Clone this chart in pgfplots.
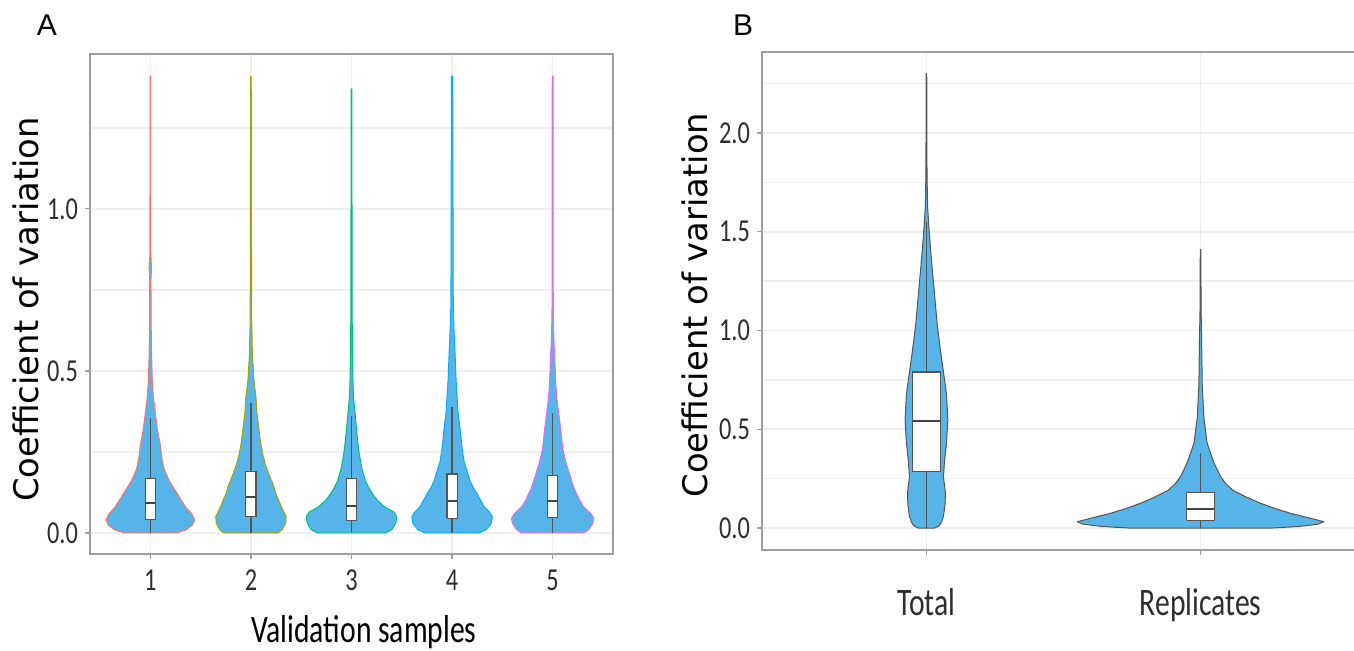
\documentclass[border=0pt]{standalone}
\usepackage{fontspec}
\setmainfont{Carlito}
\newfontfamily\cond[FakeStretch=0.76]{Carlito}
\newfontfamily\dv{DejaVu Sans}
\newfontfamily\lsans{Liberation Sans}
\usepackage{pgfplots}
\pgfplotsset{compat=1.18}
\usepackage{pgfplotstable}

\definecolor{vblue}{HTML}{56B4E9}
\definecolor{cA}{HTML}{F8766D}
\definecolor{cB}{HTML}{A3A500}
\definecolor{cC}{HTML}{00BF7D}
\definecolor{cD}{HTML}{00B0F6}
\definecolor{cE}{HTML}{E76BF3}
\definecolor{frame}{HTML}{9E9E9E}
\definecolor{gridc}{HTML}{EFEFEF}
\definecolor{boxc}{HTML}{555555}
\definecolor{tickc}{HTML}{2E2E2E}

% violin outlines: y = CV, d = signed half-width (right side up, left side down)
\pgfplotstableread{
y d
0 0.26
0.01 0.36
0.025 0.42
0.04 0.44
0.06 0.41
0.08 0.35
0.10 0.31
0.12 0.27
0.14 0.23
0.16 0.19
0.18 0.16
0.20 0.135
0.23 0.115
0.27 0.10
0.32 0.07
0.37 0.05
0.42 0.03
0.47 0.02
0.55 0.012
0.65 0.008
0.78 0.006
0.82 0.012
0.86 0.004
1.2 0.003
1.41 0.002
1.41 -0.002
1.2 -0.003
0.86 -0.004
0.82 -0.012
0.78 -0.006
0.65 -0.008
0.55 -0.012
0.47 -0.02
0.42 -0.03
0.37 -0.05
0.32 -0.07
0.27 -0.10
0.23 -0.115
0.20 -0.135
0.18 -0.16
0.16 -0.19
0.14 -0.23
0.12 -0.27
0.10 -0.31
0.08 -0.35
0.06 -0.41
0.04 -0.44
0.025 -0.42
0.01 -0.36
0 -0.26
0 0.26
}\vA
\pgfplotstableread{
y d
0 0.27
0.01 0.31
0.03 0.345
0.05 0.35
0.07 0.32
0.09 0.29
0.12 0.25
0.15 0.22
0.18 0.18
0.21 0.145
0.24 0.12
0.28 0.095
0.32 0.08
0.37 0.06
0.42 0.05
0.47 0.03
0.55 0.015
0.65 0.008
0.8 0.006
1.0 0.005
1.2 0.004
1.41 0.003
1.41 -0.003
1.2 -0.004
1.0 -0.005
0.8 -0.006
0.65 -0.008
0.55 -0.015
0.47 -0.03
0.42 -0.05
0.37 -0.06
0.32 -0.08
0.28 -0.095
0.24 -0.12
0.21 -0.145
0.18 -0.18
0.15 -0.22
0.12 -0.25
0.09 -0.29
0.07 -0.32
0.05 -0.35
0.03 -0.345
0.01 -0.31
0 -0.27
0 0.27
}\vB
\pgfplotstableread{
y d
0 0.34
0.01 0.40
0.03 0.44
0.05 0.45
0.065 0.42
0.08 0.33
0.10 0.26
0.12 0.21
0.14 0.17
0.16 0.14
0.19 0.11
0.22 0.09
0.26 0.07
0.32 0.05
0.37 0.035
0.42 0.02
0.47 0.015
0.55 0.01
0.7 0.006
1.0 0.005
1.37 0.003
1.37 -0.003
1.0 -0.005
0.7 -0.006
0.55 -0.01
0.47 -0.015
0.42 -0.02
0.37 -0.035
0.32 -0.05
0.26 -0.07
0.22 -0.09
0.19 -0.11
0.16 -0.14
0.14 -0.17
0.12 -0.21
0.10 -0.26
0.08 -0.33
0.065 -0.42
0.05 -0.45
0.03 -0.44
0.01 -0.40
0 -0.34
0 0.34
}\vC
\pgfplotstableread{
y d
0 0.27
0.01 0.34
0.03 0.39
0.05 0.40
0.065 0.37
0.08 0.32
0.10 0.285
0.12 0.25
0.14 0.21
0.16 0.18
0.19 0.15
0.22 0.12
0.26 0.10
0.32 0.08
0.37 0.06
0.42 0.05
0.47 0.04
0.55 0.03
0.62 0.02
0.7 0.012
0.85 0.01
1.2 0.008
1.41 0.006
1.41 -0.006
1.2 -0.008
0.85 -0.01
0.7 -0.012
0.62 -0.02
0.55 -0.03
0.47 -0.04
0.42 -0.05
0.37 -0.06
0.32 -0.08
0.26 -0.10
0.22 -0.12
0.19 -0.15
0.16 -0.18
0.14 -0.21
0.12 -0.25
0.10 -0.285
0.08 -0.32
0.065 -0.37
0.05 -0.40
0.03 -0.39
0.01 -0.34
0 -0.27
0 0.27
}\vD
\pgfplotstableread{
y d
0 0.31
0.01 0.36
0.03 0.40
0.045 0.41
0.06 0.38
0.08 0.31
0.10 0.27
0.12 0.24
0.14 0.21
0.16 0.19
0.19 0.16
0.22 0.13
0.26 0.10
0.32 0.08
0.37 0.06
0.42 0.04
0.47 0.03
0.55 0.02
0.6 0.012
0.7 0.006
1.0 0.005
1.41 0.004
1.41 -0.004
1.0 -0.005
0.7 -0.006
0.6 -0.012
0.55 -0.02
0.47 -0.03
0.42 -0.04
0.37 -0.06
0.32 -0.08
0.26 -0.10
0.22 -0.13
0.19 -0.16
0.16 -0.19
0.14 -0.21
0.12 -0.24
0.10 -0.27
0.08 -0.31
0.06 -0.38
0.045 -0.41
0.03 -0.40
0.01 -0.36
0 -0.31
0 0.31
}\vE
\pgfplotstableread{
y d
0 0.03
0.01 0.045
0.03 0.055
0.06 0.062
0.12 0.068
0.18 0.069
0.26 0.062
0.34 0.066
0.43 0.073
0.55 0.078
0.68 0.073
0.77 0.064
0.90 0.051
1.02 0.040
1.19 0.029
1.36 0.018
1.52 0.009
1.63 0.004
1.8 0.002
2.3 0.001
2.3 -0.001
1.8 -0.002
1.63 -0.004
1.52 -0.009
1.36 -0.018
1.19 -0.029
1.02 -0.040
0.90 -0.051
0.77 -0.064
0.68 -0.073
0.55 -0.078
0.43 -0.073
0.34 -0.066
0.26 -0.062
0.18 -0.069
0.12 -0.068
0.06 -0.062
0.03 -0.055
0.01 -0.045
0 -0.03
0 0.03
}\vT
\pgfplotstableread{
y d
0 0.26
0.008 0.36
0.02 0.43
0.032 0.45
0.05 0.40
0.074 0.33
0.10 0.27
0.125 0.22
0.155 0.17
0.19 0.12
0.22 0.095
0.26 0.073
0.33 0.049
0.43 0.024
0.56 0.012
0.73 0.006
0.85 0.005
0.95 0.004
1.1 0.002
1.41 0.001
1.41 -0.001
1.1 -0.002
0.95 -0.004
0.85 -0.005
0.73 -0.006
0.56 -0.012
0.43 -0.024
0.33 -0.049
0.26 -0.073
0.22 -0.095
0.19 -0.12
0.155 -0.17
0.125 -0.22
0.10 -0.27
0.074 -0.33
0.05 -0.40
0.032 -0.45
0.02 -0.43
0.008 -0.36
0 -0.26
0 0.26
}\vR

% #1 table, #2 position, #3 outline colour
\newcommand\violin[3]{%
  \addplot[fill=vblue, draw=#3, line width=0.5pt, line join=round]
    table[x expr=#2+\thisrow{d}, y=y]{#1};}
% #1 left, #2 centre, #3 right, #4 lower whisker, #5 q1, #6 median, #7 q3, #8 upper whisker
\newcommand\cvbox[8]{%
  \addplot[boxc, line width=0.6pt] coordinates {(#2,#4)(#2,#5)};
  \addplot[boxc, line width=0.6pt] coordinates {(#2,#7)(#2,#8)};
  \addplot[boxc, fill=white, line width=0.6pt] coordinates {(#1,#5)(#3,#5)(#3,#7)(#1,#7)(#1,#5)};
  \addplot[boxc!80!black, line width=1pt] coordinates {(#1,#6)(#3,#6)};}

\pgfplotsset{cvstyle/.style={scale only axis,
  axis line style={frame, line width=1pt},
  tick style={frame, line width=0.6pt},
  major tick length=2.5pt, minor tick length=0pt, tick align=outside,
  xtick pos=left, ytick pos=left,
  grid=both, major grid style={gridc, line width=0.8pt},
  minor grid style={gridc, line width=0.7pt},
  ticklabel style={font=\cond\fontsize{16}{18}\selectfont, text=tickc},
  /pgf/number format/assume math mode=true,
  yticklabel style={/pgf/number format/fixed, /pgf/number format/fixed zerofill,
    /pgf/number format/precision=1}}}

\begin{document}
\begin{tikzpicture}
\useasboundingbox (0,0) rectangle (677pt,325.5pt);
\begin{axis}[cvstyle, at={(45pt,48.5pt)}, anchor=south west,
  width=261.5pt, height=250pt,
  xmin=0.4, xmax=5.6, ymin=-0.065, ymax=1.478,
  xtick={1,2,3,4,5}, xticklabel style={yshift=-2pt},
  ytick={0,0.5,1}, minor ytick={0.25,0.75,1.25}]
\violin{\vA}{1}{cA}
\violin{\vB}{2}{cB}
\violin{\vC}{3}{cC}
\violin{\vD}{4}{cD}
\violin{\vE}{5}{cE}
\cvbox{0.95}{1}{1.05}{0}{0.042}{0.092}{0.169}{0.355}
\cvbox{1.95}{2}{2.05}{0}{0.050}{0.112}{0.189}{0.40}
\cvbox{2.95}{3}{3.05}{0}{0.039}{0.083}{0.169}{0.36}
\cvbox{3.95}{4}{4.05}{0}{0.045}{0.100}{0.182}{0.39}
\cvbox{4.95}{5}{5.05}{0}{0.047}{0.097}{0.176}{0.37}
\end{axis}
\begin{axis}[cvstyle, at={(381pt,50.5pt)}, anchor=south west,
  width=301.5pt, height=249pt,
  xmin=0.4, xmax=2.6, ymin=-0.111, ymax=2.41,
  xtick={1,2}, xticklabels={Total,Replicates},
  xticklabel style={font=\cond\fontsize{19.5}{22}\selectfont, yshift=-13pt},
  ytick={0,0.5,1,1.5,2}, minor ytick={0.25,0.75,1.25,1.75,2.25}]
\violin{\vT}{1}{boxc}
\violin{\vR}{2}{boxc}
\cvbox{0.95}{1}{1.05}{0}{0.285}{0.54}{0.79}{1.55}
\cvbox{1.95}{2}{2.05}{0}{0.04}{0.096}{0.179}{0.38}
\end{axis}
\node[font=\lsans\fontsize{15}{17}\selectfont] at (23.5pt,313pt) {A};
\node[font=\lsans\fontsize{15}{17}\selectfont] at (371.5pt,313pt) {B};
\node[font=\dv\fontsize{16.9}{19}\selectfont, rotate=90] at (13pt,170.75pt) {Coefficient of variation};
\node[font=\dv\fontsize{16.9}{19}\selectfont, rotate=90] at (347.5pt,173pt) {Coefficient of variation};
\node[font=\cond\fontsize{19.5}{22}\selectfont, anchor=base] at (182pt,4pt) {Validation samples};
\end{tikzpicture}
\end{document}
